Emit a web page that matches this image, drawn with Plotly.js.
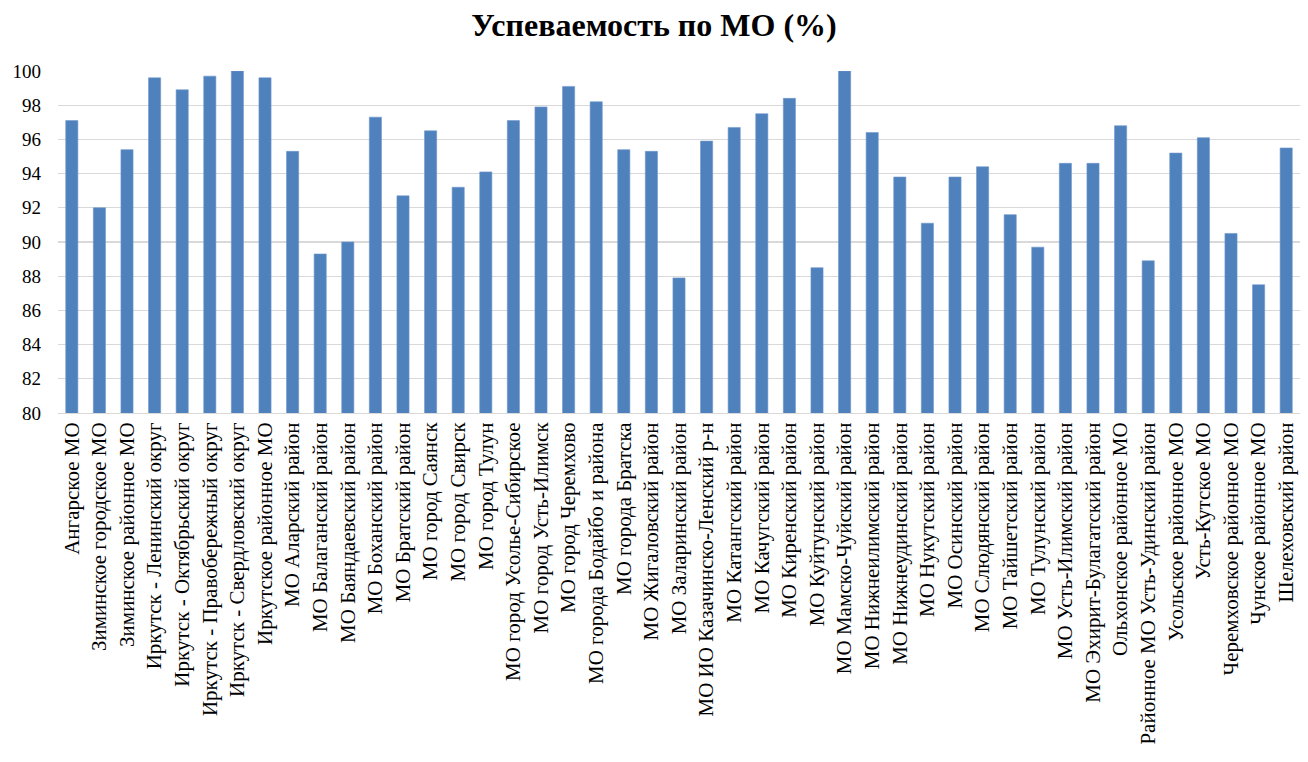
<!DOCTYPE html>
<html>
<head>
<meta charset="utf-8">
<script src="https://cdn.plot.ly/plotly-3.0.1.min.js"></script>
<style>html,body{margin:0;padding:0;background:#fff;}#chart{width:1308px;height:762px;}</style>
</head>
<body>
<div id="chart"></div>
<script>
const categories = [
  "Ангарское МО",
  "Зиминское городское МО",
  "Зиминское районное МО",
  "Иркутск - Ленинский округ",
  "Иркутск - Октябрьский округ",
  "Иркутск - Правобережный округ",
  "Иркутск - Свердловский округ",
  "Иркутское районное МО",
  "МО Аларский район",
  "МО Балаганский район",
  "МО Баяндаевский район",
  "МО Боханский район",
  "МО Братский район",
  "МО город Саянск",
  "МО город Свирск",
  "МО город Тулун",
  "МО город Усолье-Сибирское",
  "МО город Усть-Илимск",
  "МО город Черемхово",
  "МО города Бодайбо и района",
  "МО города Братска",
  "МО Жигаловский район",
  "МО Заларинский район",
  "МО ИО Казачинско-Ленский р-н",
  "МО Катангский район",
  "МО Качугский район",
  "МО Киренский район",
  "МО Куйтунский район",
  "МО Мамско-Чуйский район",
  "МО Нижнеилимский район",
  "МО Нижнеудинский район",
  "МО Нукутский район",
  "МО Осинский район",
  "МО Слюдянский район",
  "МО Тайшетский район",
  "МО Тулунский район",
  "МО Усть-Илимский район",
  "МО Эхирит-Булагатский район",
  "Ольхонское районное МО",
  "Районное МО Усть-Удинский район",
  "Усольское районное МО",
  "Усть-Кутское МО",
  "Черемховское районное МО",
  "Чунское районное МО",
  "Шелеховский район"
];
const successRate = [
  97.1, 92.0, 95.4, 99.6, 98.9, 99.7, 100.0, 99.6, 95.3, 89.3,
  90.0, 97.3, 92.7, 96.5, 93.2, 94.1, 97.1, 97.9, 99.1, 98.2,
  95.4, 95.3, 87.9, 95.9, 96.7, 97.5, 98.4, 88.5, 100.0, 96.4,
  93.8, 91.1, 93.8, 94.4, 91.6, 89.7, 94.6, 94.6, 96.8, 88.9,
  95.2, 96.1, 90.5, 87.5, 95.5
];
const chartTitle = "Успеваемость по МО (%)";
const yTicks = [80, 82, 84, 86, 88, 90, 92, 94, 96, 98, 100];

const serif = "Liberation Serif";

const trace = {
  type: "bar",
  x: categories,
  y: successRate,
  marker: { color: "#4f81bd", line: { color: "#6f97cc", width: 0.6 } },
  hoverinfo: "x+y"
};

const layout = {
  width: 1308,
  height: 762,
  margin: { l: 58, r: 8, t: 71, b: 349 },
  paper_bgcolor: "#ffffff",
  plot_bgcolor: "#ffffff",
  bargap: 0.56,
  showlegend: false,
  font: { family: serif, color: "#000000" },
  title: {
    text: "<b>" + chartTitle + "</b>",
    font: { family: serif, size: 32, color: "#000000" },
    x: 0.5,
    xanchor: "center",
    y: 0.968,
    yanchor: "middle"
  },
  xaxis: {
    type: "category",
    tickangle: -90,
    tickfont: { family: serif, size: 21, color: "#000000" },
    showgrid: false,
    showline: true,
    linecolor: "#d9d9d9",
    linewidth: 1,
    ticks: "",
    automargin: false
  },
  yaxis: {
    range: [80, 100],
    tickvals: yTicks,
    ticktext: yTicks.map(String),
    tickfont: { family: serif, size: 19, color: "#000000" },
    showgrid: true,
    gridcolor: "#d9d9d9",
    gridwidth: 1.3,
    zeroline: false,
    showline: false,
    ticks: "",
    ticklabelstandoff: 16,
    automargin: false
  }
};

Plotly.newPlot("chart", [trace], layout, { displayModeBar: false, staticPlot: true });
</script>
</body>
</html>
